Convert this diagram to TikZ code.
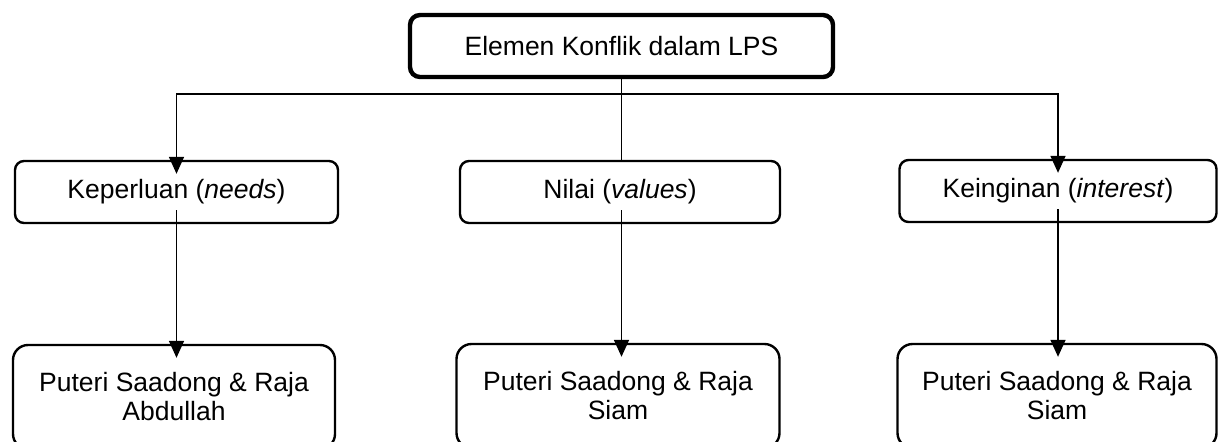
\documentclass[tikz,border=0pt]{standalone}
\usepackage{fontspec}
\setmainfont{Liberation Sans}
\usetikzlibrary{arrows.meta}
\tikzset{
  topbox/.style={draw, line width=2.2pt, rounded corners=5pt, inner sep=0pt,
    minimum width=211.5pt, minimum height=31pt, align=center},
  midbox/.style={draw, line width=1.2pt, rounded corners=4.5pt, inner sep=0pt,
    minimum height=31pt, align=center},
  botbox/.style={draw, line width=1.2pt, rounded corners=7.5pt, inner sep=0pt,
    minimum height=52pt, align=center},
  conn/.style={line width=0.8pt},
  arr/.style={conn, -{Triangle[width=7.5pt,length=8.5pt]}, shorten >=-7pt},
  every node/.style={font=\fontsize{13.25pt}{14.5pt}\selectfont}
}
\begin{document}
\begin{tikzpicture}[x=0.5pt,y=-0.5pt]
\useasboundingbox (0,0) rectangle (1218,441);
\clip (0,0) rectangle (1218,441);
\fill[white] (0,0) rectangle (1218,441);
% top
\node[topbox] (top) at (621.5,46) {Elemen Konflik dalam LPS};
% middle
\node[midbox, minimum width=161.5pt] (kep) at (176.5,192) {Keperluan (\textit{needs})};
\node[midbox, minimum width=160pt] (nil) at (620,192) {Nilai (\textit{values})};
\node[midbox, minimum width=158.5pt] (kei) at (1058,191) {Keinginan (\textit{interest})};
% bottom
\node[botbox, minimum width=161pt] (b1) at (174,397) {Puteri Saadong \& Raja\\Abdullah};
\node[botbox, minimum width=161.5pt] (b2) at (618,396) {Puteri Saadong \& Raja\\Siam};
\node[botbox, minimum width=159.5pt] (b3) at (1057,396) {Puteri Saadong \& Raja\\Siam};
% connectors
\coordinate (j) at (621.5,94);
\draw[conn] (top.south) -- (top.south |- nil.north);
\draw[arr] (j) -| (kep.north);
\draw[arr] (j) -| (kei.north);
\draw[arr, shorten <=-7pt] (kep.south) -- (kep.south |- b1.north);
\draw[arr, shorten <=-7pt] (top.south |- nil.south) -- (top.south |- b2.north);
\draw[arr, shorten <=-7pt] (kei.south) -- (kei.south |- b3.north);
\end{tikzpicture}
\end{document}
